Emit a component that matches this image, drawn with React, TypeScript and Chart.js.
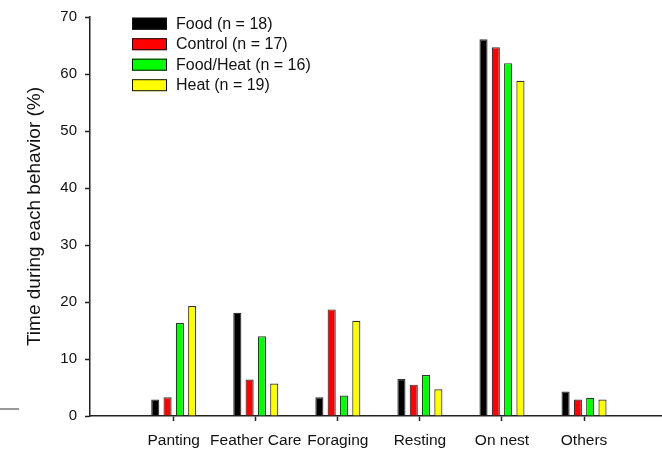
import React, { useEffect, useRef } from "react";
import { Chart, registerables } from "chart.js";

Chart.register(...registerables);

const categories = ["Panting", "Feather Care", "Foraging", "Resting", "On nest", "Others"];
const seriesLabels = ["Food (n = 18)", "Control (n = 17)", "Food/Heat (n = 16)", "Heat (n = 19)"];
const seriesColors = ["#000000", "#ff0000", "#00ff00", "#ffff00"];
const food = [2.9, 18.1, 3.3, 6.5, 66.1, 4.3];
const control = [3.3, 6.4, 18.7, 5.5, 64.7, 2.9];
const foodHeat = [16.3, 14.0, 3.6, 7.2, 61.9, 3.2];
const heat = [19.3, 5.7, 16.7, 4.7, 58.8, 2.9];
const yTicks = [0, 10, 20, 30, 40, 50, 60, 70];

const FONT = "'Liberation Sans', Arial, sans-serif";

const legendPlugin = {
  id: "insideLegend",
  afterDraw(chart: any) {
    const { ctx, chartArea } = chart;
    ctx.save();
    const x0 = chartArea.left + 42;
    const y0 = chartArea.top + 0.7;
    chart.data.datasets.forEach((ds: any, i: number) => {
      const y = y0 + i * 20.5;
      ctx.fillStyle = ds.backgroundColor;
      ctx.fillRect(x0, y, 35, 12);
      ctx.strokeStyle = "#111";
      ctx.lineWidth = 1;
      ctx.strokeRect(x0 + 0.5, y + 0.5, 34, 11);
      ctx.fillStyle = "#111";
      ctx.font = `16px ${FONT}`;
      ctx.textBaseline = "middle";
      ctx.textAlign = "left";
      ctx.fillText(ds.label, x0 + 44, y + 6.5);
    });
    // small stray mark at lower left, relative to the zero line
    const yz = chart.scales.y.getPixelForValue(0) - 7;
    ctx.strokeStyle = "#777";
    ctx.lineWidth = 1.5;
    ctx.beginPath();
    ctx.moveTo(0, yz);
    ctx.lineTo(19, yz);
    ctx.stroke();
    ctx.restore();
  },
};

export default function App() {
  const ref = useRef<HTMLCanvasElement>(null);
  useEffect(() => {
    document.body.style.margin = "0";
    const series = [food, control, foodHeat, heat];
    const chart = new Chart(ref.current as HTMLCanvasElement, {
      type: "bar",
      data: {
        datasets: series.map((vals, i) => ({
          label: seriesLabels[i],
          data: vals.map((v, j) => ({ x: j, y: v })),
          backgroundColor: seriesColors[i],
          borderColor: "#333",
          borderWidth: 1.2,
          categoryPercentage: 0.6,
          barPercentage: 0.66,
        })),
      },
      options: {
        responsive: false,
        animation: false,
        layout: { padding: { top: 14, right: 0, left: 0, bottom: 0 } },
        plugins: { legend: { display: false }, tooltip: { enabled: false } },
        scales: {
          x: {
            type: "linear",
            offset: false,
            min: -1.02,
            max: 5.95,
            afterBuildTicks: (s: any) => {
              s.ticks = categories.map((_, i) => ({ value: i }));
            },
            afterFit: (s: any) => {
              s.height = 34;
            },
            grid: { offset: false, drawOnChartArea: false, tickLength: 5, tickColor: "#222", tickWidth: 1.5 },
            border: { display: true, color: "#222", width: 1.5 },
            ticks: {
              autoSkip: false,
              maxRotation: 0,
              padding: 10,
              color: "#111",
              font: { family: FONT, size: 15.5 },
              callback: (v: any) => categories[v] ?? "",
            },
          },
          y: {
            min: 0,
            max: 70,
            afterBuildTicks: (s: any) => {
              s.ticks = yTicks.map((v) => ({ value: v }));
            },
            afterFit: (s: any) => {
              s.width = 90;
            },
            grid: { drawOnChartArea: false, tickLength: 5, tickColor: "#222", tickWidth: 1.5 },
            border: { display: true, color: "#222", width: 1.5 },
            ticks: {
              padding: 8,
              color: "#111",
              font: { family: FONT, size: 15 },
            },
            title: {
              display: true,
              text: "Time during each behavior (%)",
              color: "#111",
              font: { family: FONT, size: 19 },
              padding: { top: 23, bottom: 0 },
            },
          },
        },
      },
      plugins: [legendPlugin],
    });
    return () => chart.destroy();
  }, []);
  return (
    <div style={{ width: 662, height: 450 }}>
      <canvas ref={ref} width={662} height={450} />
    </div>
  );
}
